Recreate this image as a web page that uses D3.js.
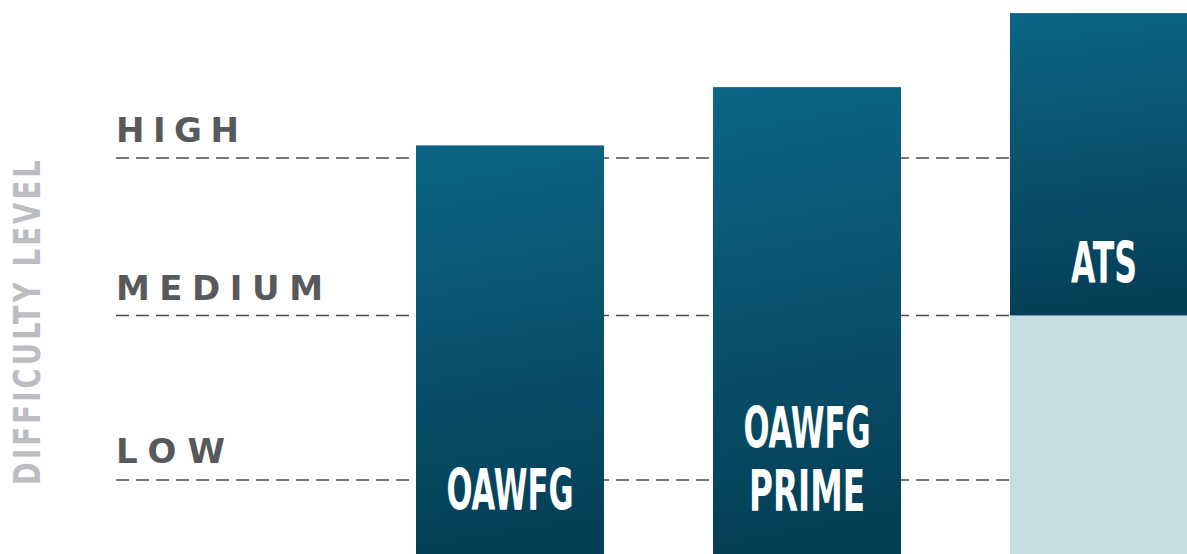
<!DOCTYPE html>
<html>
<head>
<meta charset="utf-8">
<script src="https://d3js.org/d3.v7.min.js"></script>
<style>
  body { margin: 0; background: #fff; overflow: hidden; }
</style>
</head>
<body>
<div id="my_dataviz"></div>
<script>

// data
var levels = ["LOW", "MEDIUM", "HIGH"];
var levelValues = [1, 2, 3];
var products = ["OAWFG", "OAWFG PRIME", "ATS"];
var barTops = [3.08, 3.45, 3.92];
var barStarts = [0.55, 0.55, 2];
var shadeTops = [null, null, 2];   // light part under the bar
var baseValue = 0.55;

var width = 1187, height = 554;

var svg = d3.select("#my_dataviz")
  .append("svg")
    .attr("width", width)
    .attr("height", height);

// gradient for bars
var grad = svg.append("defs").append("linearGradient")
    .attr("id", "barGrad")
    .attr("x1", "0").attr("y1", "0")
    .attr("x2", "0.08").attr("y2", "1");
grad.append("stop").attr("offset", "0%").attr("stop-color", "#0c6585");
grad.append("stop").attr("offset", "100%").attr("stop-color", "#053f57");

// y: level positions are not evenly spaced in the picture
var y = d3.scaleLinear()
  .domain(levelValues)
  .range([480, 315.5, 158]);

// x: bands for the products (last bar runs past the right edge)
var x = d3.scaleBand()
  .domain(products)
  .range([416, 416 + 297 * 2 + 188])
  .paddingInner(109 / 297)
  .paddingOuter(0);

// dashed level lines
svg.selectAll(".levelLine")
  .data(levelValues)
  .enter()
  .append("line")
    .attr("class", "levelLine")
    .attr("x1", 116)
    .attr("x2", 1009)
    .attr("y1", function(d) { return y(d); })
    .attr("y2", function(d) { return y(d); })
    .attr("stroke", "#4a4a4c")
    .attr("stroke-width", 1.4)
    .attr("stroke-dasharray", "13,7");

// level labels
svg.selectAll(".levelLabel")
  .data(levels)
  .enter()
  .append("text")
    .attr("class", "levelLabel")
    .attr("x", 116)
    .attr("y", function(d, i) { return y(levelValues[i]) - (i == 0 ? 17 : 16); })
    .attr("textLength", function(d) { return {LOW: 109, MEDIUM: 207, HIGH: 123}[d]; })
    .attr("lengthAdjust", "spacing")
    .style("font-family", "'DejaVu Sans', sans-serif")
    .style("font-weight", "bold")
    .style("font-size", "34px")
    .attr("fill", "#58595b")
    .text(function(d) { return d; });

// axis title
svg.append("text")
  .attr("transform", "translate(40,321) rotate(-90)")
  .attr("text-anchor", "middle")
  .attr("textLength", 328)
  .attr("lengthAdjust", "spacingAndGlyphs")
  .style("font-family", "'Liberation Sans Narrow', 'DejaVu Sans Condensed', sans-serif")
  .style("font-weight", "bold")
  .style("font-size", "38px")
  .style("letter-spacing", "4px")
  .attr("fill", "#bcbdc0")
  .text("DIFFICULTY LEVEL");

// light part under the ATS bar
svg.selectAll(".shade")
  .data(products.filter(function(d, i) { return shadeTops[i] != null; }))
  .enter()
  .append("rect")
    .attr("class", "shade")
    .attr("x", function(d) { return x(d); })
    .attr("width", x.bandwidth())
    .attr("y", function(d) { return y(shadeTops[products.indexOf(d)]); })
    .attr("height", function(d) { return y(baseValue) - y(shadeTops[products.indexOf(d)]); })
    .attr("fill", "#c6dde4");

// bars
svg.selectAll(".bar")
  .data(products)
  .enter()
  .append("rect")
    .attr("class", "bar")
    .attr("x", function(d) { return x(d); })
    .attr("width", x.bandwidth())
    .attr("y", function(d, i) { return y(barTops[i]); })
    .attr("height", function(d, i) { return y(barStarts[i]) - y(barTops[i]); })
    .attr("fill", "url(#barGrad)");

// bar labels
var labelBase = [510, 511, 283];
var labels = svg.selectAll(".barLabel")
  .data(products)
  .enter()
  .append("text")
    .attr("class", "barLabel")
    .attr("text-anchor", "middle")
    .style("font-family", "'Liberation Sans Narrow', 'DejaVu Sans Condensed', sans-serif")
    .style("font-weight", "bold")
    .style("font-size", "57px")
    .attr("fill", "#ffffff");

labels.each(function(d, i) {
  var words = d == "OAWFG PRIME" ? ["OAWFG", "PRIME"] : [d];
  var el = d3.select(this);
  var cx = x(d) + x.bandwidth() / 2;
  words.forEach(function(w, j) {
    el.append("tspan")
      .attr("x", cx)
      .attr("y", labelBase[i] - (words.length - 1 - j) * 63)
      .attr("textLength", {OAWFG: 127, PRIME: 116, ATS: 66}[w])
      .attr("lengthAdjust", "spacingAndGlyphs")
      .text(w);
  });
});

</script>
</body>
</html>
